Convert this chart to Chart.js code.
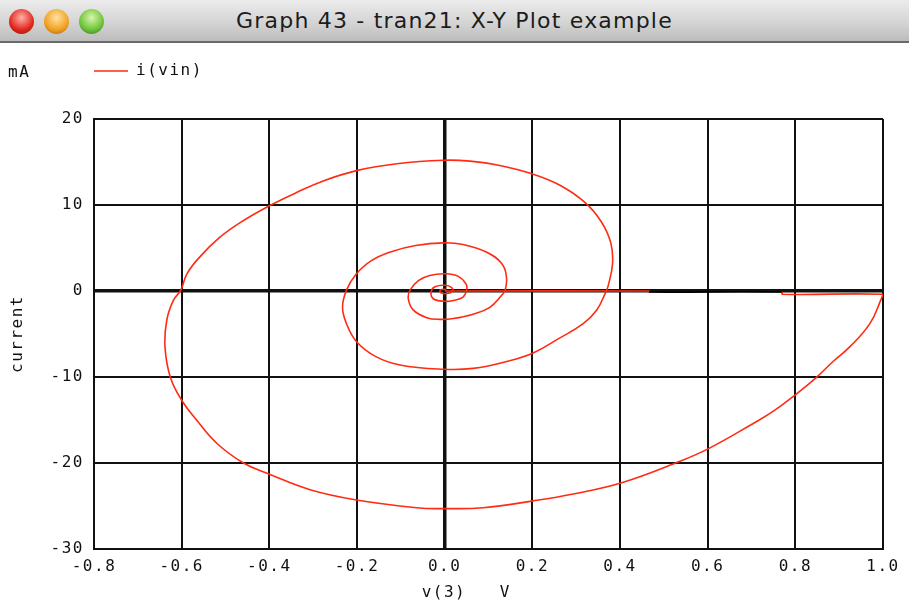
<!DOCTYPE html>
<html>
<head>
<meta charset="utf-8">
<script src="https://cdn.jsdelivr.net/npm/chart.js@4/dist/chart.umd.min.js"></script>
<style>
  html, body { margin: 0; padding: 0; background: #fff; }
  #wrap { position: relative; width: 909px; height: 616px; overflow: hidden; }
  #plot { position: absolute; left: 0; top: 0; }
  #titlebar {
    position: absolute; left: 0; top: 0; width: 909px; height: 41px;
    background: linear-gradient(#ececec, #d2d2d2 60%, #bcbcbc);
    border-bottom: 2px solid #6a6a6a;
    font: 22px "DejaVu Sans", sans-serif; letter-spacing: 1.2px; color: #1c1c1c;
    text-align: center; line-height: 42px;
  }
  .light { position: absolute; top: 9px; width: 25px; height: 25px; border-radius: 50%; }
  #unit { position: absolute; left: 8px; top: 62px; font: 16px "DejaVu Sans Mono", monospace; letter-spacing: 1.5px; color: #111; }
</style>
</head>
<body>
<div id="wrap">
  <canvas id="plot" width="909" height="616"></canvas>
  <div id="titlebar">Graph 43 - tran21: X-Y Plot example
    <div class="light" style="left:9px;background:radial-gradient(circle at 50% 35%,#ffb0a8,#e0261c 60%,#8c1208)"></div>
    <div class="light" style="left:44px;background:radial-gradient(circle at 50% 35%,#ffe3a0,#f0a020 60%,#9a5a08)"></div>
    <div class="light" style="left:79px;background:radial-gradient(circle at 50% 35%,#d8f7a8,#6cc23a 60%,#2f6e12)"></div>
  </div>
  <div id="unit">mA</div>
</div>
<script>
// v(3) in volts, i(vin) in mA
const voltage = [
  0, 0.466, 0.466, 0.770, 0.770, 1.000,
  0.997, 0.970, 0.924, 0.886, 0.847, 0.799, 0.749, 0.704, 0.603, 0.537,
  0.404, 0.293, 0.202, 0.088, -0.003, -0.064, -0.201, -0.307, -0.400, -0.459,
  -0.520, -0.566, -0.600, -0.626, -0.638, -0.634, -0.619, -0.602, -0.588, -0.558,
  -0.514, -0.465, -0.404, -0.340, -0.277, -0.201, -0.109, -0.003, 0.058, 0.126,
  0.201, 0.263, 0.320, 0.358, 0.379, 0.383, 0.373, 0.366, 0.347, 0.316,
  0.258, 0.202, 0.141, 0.065, -0.003, -0.102, -0.158, -0.201, -0.224, -0.233,
  -0.224, -0.203, -0.168, -0.120, -0.066, -0.003, 0.042, 0.096, 0.130, 0.141,
  0.138, 0.130, 0.103, 0.065, 0.020, -0.011, -0.041, -0.072, -0.083, -0.079,
  -0.060, -0.034, 0.001, 0.031, 0.049, 0.050, 0.042, 0.020, 0.001, -0.026,
  -0.031, -0.022, 0.001, 0.016, 0.018, 0.006, -0.009, -0.010, 0, 0.004
];
const current = [
  0, 0, -0.12, -0.12, -0.38, -0.38,
  -0.8, -3.8, -6.5, -8.2, -10.1, -12.1, -14.0, -15.4, -18.3, -19.8,
  -22.3, -23.6, -24.4, -25.2, -25.3, -25.2, -24.3, -23.1, -21.3, -20.0,
  -17.7, -15.0, -12.7, -10.0, -6.5, -3.4, -1.1, 0.1, 2.0, 4.0,
  6.2, 8.0, 9.8, 11.4, 12.8, 14.0, 14.8, 15.2, 15.1, 14.6,
  13.6, 12.3, 10.3, 8.0, 5.6, 3.2, 0.6, -0.3, -2.2, -3.8,
  -5.6, -7.2, -8.2, -9.0, -9.1, -8.6, -7.6, -5.9, -3.8, -1.9,
  0.1, 1.9, 3.5, 4.6, 5.3, 5.6, 5.4, 4.5, 3.2, 1.6,
  0.1, -0.5, -1.9, -2.7, -3.2, -3.3, -3.1, -2.2, -0.9, 0.1,
  1.2, 1.8, 2.0, 1.7, 0.8, 0.1, -0.7, -1.1, -1.2, -0.9,
  -0.1, 0.5, 0.66, 0.4, 0, -0.3, -0.2, 0.1, 0.2, 0.05
];
const xTickValues = [-0.8, -0.6, -0.4, -0.2, 0, 0.2, 0.4, 0.6, 0.8, 1.0];
const yTickValues = [-30, -20, -10, 0, 10, 20];

const monoFont = { family: "DejaVu Sans Mono", size: 16 };
const points = voltage.map((v, i) => ({ x: v, y: current[i] }));

const gridWidth = (ctx) => Math.abs(ctx.tick.value) < 1e-9 ? 3.5 : 2;

// the original uses a wide terminal font, spread the glyphs a little
const spread = (chart) => { chart.ctx.letterSpacing = "1.5px"; };
const wideText = { id: "wideText", beforeUpdate: spread, beforeLayout: spread, beforeDraw: spread };

new Chart(document.getElementById("plot"), {
  type: "scatter",
  plugins: [wideText],
  data: {
    datasets: [{
      label: "i(vin)",
      data: points,
      showLine: true,
      borderColor: "#ff2b12",
      backgroundColor: "#ff2b12",
      borderWidth: 1.6,
      pointRadius: 0,
      tension: 0.42,
      // this piece sits right under the zero axis in the original
      segment: { borderColor: (c) => c.p0DataIndex === 2 ? "#000" : undefined },
    }],
  },
  options: {
    responsive: false,
    animation: false,
    layout: { padding: { top: 63, right: 26, bottom: 0, left: 0 } },
    plugins: {
      tooltip: { enabled: false },
      legend: {
        position: "top",
        align: "start",
        fullSize: false,
        labels: {
          usePointStyle: true,
          pointStyle: "line",
          pointStyleWidth: 34,
          padding: 0,
          color: "#111",
          font: monoFont,
        },
      },
      // empty title used only as a gap between the legend and the plot
      title: { display: true, text: "", weight: 500, font: { size: 10 }, padding: { top: 0, bottom: 18 } },
    },
    scales: {
      x: {
        type: "linear",
        min: -0.8,
        max: 1.0,
        afterBuildTicks: (s) => { s.ticks = xTickValues.map((v) => ({ value: v })); },
        afterFit: (s) => { s.height = 67; },
        ticks: {
          color: "#111",
          font: monoFont,
          padding: 8,
          maxRotation: 0,
          callback: (v) => (Math.abs(v) < 1e-9 ? 0 : v).toFixed(1),
        },
        grid: { color: "#111", lineWidth: gridWidth, drawTicks: false },
        border: { color: "#111", width: 2 },
        title: { display: true, text: "v(3)   V    ", color: "#111", font: monoFont, padding: { top: 0, bottom: 14 } },
      },
      y: {
        type: "linear",
        min: -30,
        max: 20,
        afterBuildTicks: (s) => { s.ticks = yTickValues.map((v) => ({ value: v })); },
        afterFit: (s) => { s.width = 94; },
        ticks: { color: "#111", font: monoFont, padding: 10 },
        grid: { color: "#111", lineWidth: gridWidth, drawTicks: false },
        border: { color: "#111", width: 2 },
        title: { display: true, text: "current", color: "#111", font: monoFont, padding: { top: 8, bottom: 0 } },
      },
    },
  },
});
</script>
</body>
</html>
